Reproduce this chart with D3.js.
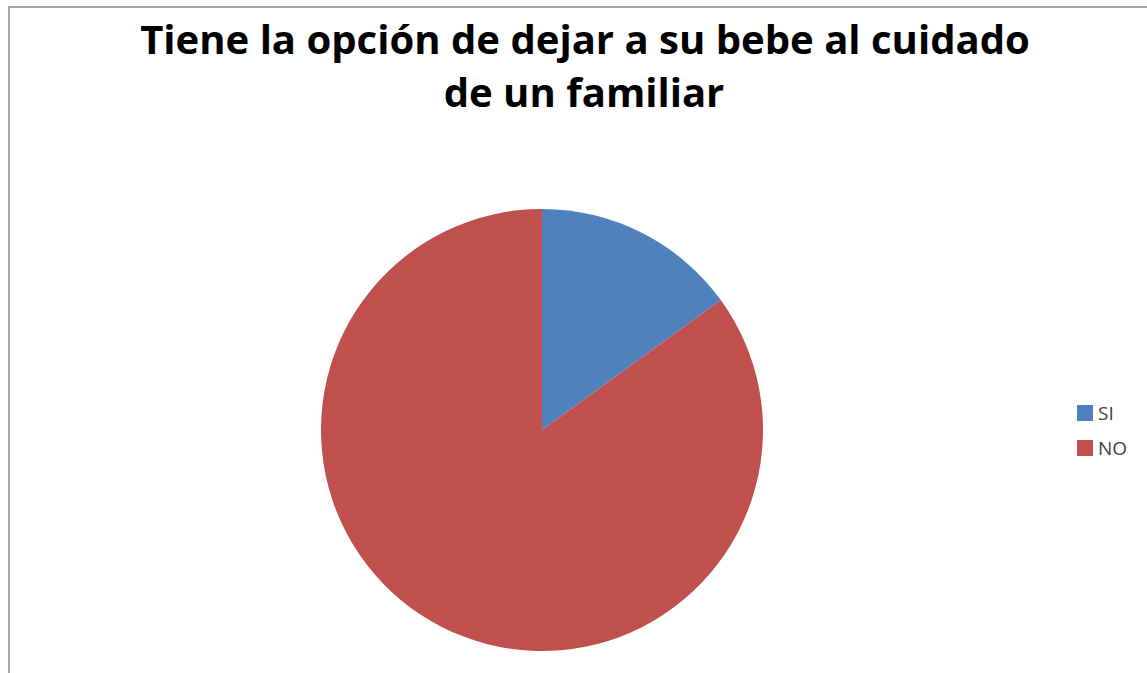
<!DOCTYPE html>
<html>
<head>
<meta charset="utf-8">
<script src="https://cdn.jsdelivr.net/npm/d3@7"></script>
<style>
  body { margin: 0; background: #fff; }
  svg { display: block; }
</style>
</head>
<body>
<div id="chart"></div>
<script>
const titleLines = ['Tiene la opción de dejar a su bebe al cuidado', 'de un familiar'];
const categories = ['SI', 'NO'];
const values = [15, 85];
const colors = ['#4F81BD', '#C0504D'];

const width = 1147, height = 673;
const svg = d3.select('#chart').append('svg')
  .attr('width', width).attr('height', height)
  .attr('viewBox', `0 0 ${width} ${height}`);

// chart area frame (only left & top edges visible in the crop)
svg.append('path')
  .attr('d', `M9,${height} V7 H${width}`)
  .attr('fill', 'none')
  .attr('stroke', '#a6a6a6')
  .attr('stroke-width', 2);

// title
const title = svg.append('g').attr('font-family', '"Open Sans", sans-serif')
  .attr('font-weight', 'bold').attr('fill', '#000').attr('text-anchor', 'middle');
const t1 = title.append('text').attr('x', 585).attr('y', 54).attr('font-size', 38).text(titleLines[0]);
// scale font so line 1 spans the same width as the reference
const w1 = t1.node().getComputedTextLength();
const fs = 38 * 890 / w1;
t1.attr('font-size', fs);
title.append('text').attr('x', 584).attr('y', 107).attr('font-size', fs).text(titleLines[1]);

// pie
const cx = 542, cy = 430, r = 221;
const pie = d3.pie().sort(null).value(d => d.value);
const arc = d3.arc().innerRadius(0).outerRadius(r);
const data = categories.map((c, i) => ({ name: c, value: values[i], color: colors[i] }));

svg.append('g').attr('transform', `translate(${cx},${cy})`)
  .selectAll('path').data(pie(data)).join('path')
  .attr('d', arc)
  .attr('fill', d => d.data.color);

// legend
const legend = svg.append('g').attr('transform', 'translate(1077,405)')
  .selectAll('g').data(data).join('g')
  .attr('transform', (d, i) => `translate(0,${i * 35})`);
legend.append('rect').attr('width', 16).attr('height', 16).attr('fill', d => d.color);
legend.append('text').attr('x', 21).attr('y', 15)
  .attr('font-family', '"Open Sans", sans-serif').attr('font-size', 19).attr('fill', '#404040')
  .text(d => d.name);
</script>
</body>
</html>
